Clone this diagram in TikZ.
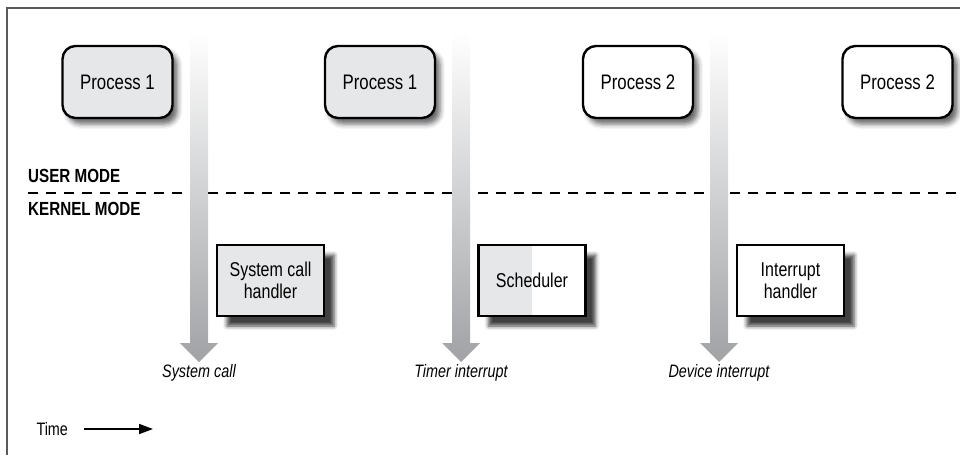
\documentclass[tikz,border=0pt]{standalone}
\usepackage{fontspec}
\setmainfont{Liberation Sans}[FakeStretch=0.8]
\usetikzlibrary{
    positioning,
    arrows.meta,
    shadows.blur
}
\definecolor{procgray}{RGB}{230,231,232}
\definecolor{bargray}{RGB}{160,162,165}
\definecolor{framegray}{RGB}{90,90,90}

\tikzset{
    process/.style={draw, line width=2.4pt, rounded corners=13pt,
        minimum width=110pt, minimum height=72pt,
        font=\fontsize{21}{24}\selectfont,
        blur shadow={shadow xshift=5pt, shadow yshift=-6pt,
            shadow blur radius=5pt, shadow opacity=60}},
    handler/.style={draw, line width=2.4pt, fill=white,
        minimum width=107pt, minimum height=71pt, align=center,
        font=\fontsize{20}{22}\selectfont,
        blur shadow={shadow xshift=10pt, shadow yshift=-10pt,
            shadow blur radius=4pt, shadow opacity=75}},
    timebar/.style={top color=white, bottom color=bargray},
    evlabel/.style={font=\itshape\fontsize{18}{20}\selectfont},
    modelabel/.style={font=\bfseries\fontsize{19}{22}\selectfont,
        anchor=base west, inner sep=0pt}
}

\begin{document}
\begin{tikzpicture}[x=1pt, y=-1pt]
    \useasboundingbox (0,0) rectangle (960,455);

    % Ramme
    \draw[framegray, line width=1.5pt] (960,8) -- (7,8) -- (7,455);

    % Skille mellom user mode og kernel mode
    \node[modelabel] (user) at (28,182) {USER MODE};
    \node[modelabel] (kernel) at (28,215) {KERNEL MODE};
    \coordinate (splitend) at (960,193);
    \draw[line width=2.5pt, dash pattern=on 10pt off 8pt] (28,193) -- (splitend);

    % Tidsstolper med piler
    \shade[timebar] (190,32) -- (208,32) -- (208,343) -- (218,343) -- (199,362)
        -- (180,343) -- (190,343) -- cycle;
    \shade[timebar] (452,32) -- (470,32) -- (470,343) -- (480,343) -- (461,362)
        -- (442,343) -- (452,343) -- cycle;
    \shade[timebar] (710,32) -- (728,32) -- (728,343) -- (738,343) -- (719,362)
        -- (700,343) -- (710,343) -- cycle;

    \node[evlabel] (syscall) at (199,373) {System call};
    \node[evlabel] (timerint) at (461,373) {Timer interrupt};
    \node[evlabel] (devint) at (719,373) {Device interrupt};

    % Prosesser i user mode
    \node[process, fill=procgray] (proca) at (117.5,82) {Process 1};
    \node[process, fill=procgray] (procb) at (380,82) {Process 1};
    \node[process, fill=white] (procc) at (638,82) {Process 2};
    \node[process, fill=white] (procd) at (897.5,82) {Process 2};

    % Kjernerutiner
    \node[handler, fill=procgray] (schandler) at (270.5,280.5) {System call\\handler};
    \node[handler, path picture={\fill[procgray]
        (path picture bounding box.south west) rectangle
        (path picture bounding box.north);}] (sched) at (532,280.5) {Scheduler};
    \node[handler] (inthandler) at (790.5,280.5) {Interrupt\\handler};

    % Tidsakse
    \node[anchor=base west, font=\fontsize{18}{20}\selectfont] (time) at (33,435) {Time};
    \coordinate (timeend) at (153,429);
    \draw[line width=1.6pt, -{Triangle[length=14pt, width=10pt]}]
        ([xshift=12pt]time.east |- timeend) -- (timeend);
\end{tikzpicture}
\end{document}
